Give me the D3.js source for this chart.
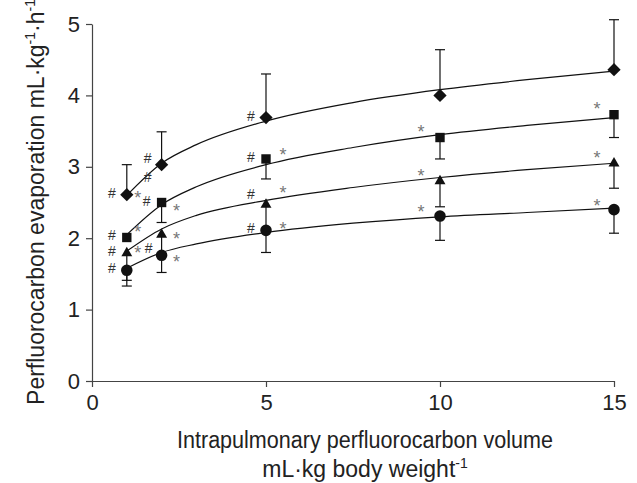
<!DOCTYPE html>
<html>
<head>
<meta charset="utf-8">
<script src="https://cdn.jsdelivr.net/npm/d3@7"></script>
<style>
  body { margin: 0; background: #fff; }
  svg { display: block; font-family: "Liberation Sans", Arial, sans-serif; }
</style>
</head>
<body>
<div id="chart-area"></div>
<script>
// volumes (mL/kg) where evaporation was measured
const volumes = [1, 2, 5, 10, 15];

// mean evaporation per series
const diamondValues = [2.61, 3.03, 3.69, 4.00, 4.36];
const squareValues = [2.01, 2.50, 3.11, 3.41, 3.73];
const triangleValues = [1.79, 2.05, 2.47, 2.80, 3.05];
const circleValues = [1.55, 1.76, 2.11, 2.31, 2.40];

// one-sided error bars (diamond up, the rest down)
const diamondErr = [0.42, 0.46, 0.61, 0.64, 0.70];
const squareErr = [null, 0.28, 0.28, 0.30, 0.32];
const triangleErr = [0.38, 0.30, 0.36, 0.36, 0.35];
const circleErr = [0.22, 0.24, 0.31, 0.34, 0.33];

// fitted curves
const fitX = [1, 2, 3, 5, 7.5, 10, 12.5, 15];
const diamondFit = [2.60, 3.05, 3.31, 3.64, 3.90, 4.08, 4.22, 4.34];
const squareFit = [2.05, 2.47, 2.72, 3.03, 3.27, 3.45, 3.58, 3.69];
const triangleFit = [1.82, 2.13, 2.32, 2.53, 2.71, 2.85, 2.96, 3.05];
const circleFit = [1.58, 1.80, 1.92, 2.08, 2.21, 2.30, 2.36, 2.42];

const xTicks = [0, 5, 10, 15];
const yTicks = [0, 1, 2, 3, 4, 5];

// significance marks: series, volume, symbol
const marks = [
  ["diamond", 1, "#"], ["diamond", 1, "*"], ["diamond", 2, "#"], ["diamond", 2, "#2"], ["diamond", 5, "#"],
  ["square", 1, "#"], ["square", 1, "*"], ["square", 2, "#"], ["square", 2, "*"], ["square", 5, "#"], ["square", 5, "*"],
  ["square", 10, "*"], ["square", 15, "*"],
  ["triangle", 1, "#"], ["triangle", 1, "*"], ["triangle", 2, "#"], ["triangle", 2, "*"], ["triangle", 5, "#"], ["triangle", 5, "*"],
  ["triangle", 10, "*"], ["triangle", 15, "*"],
  ["circle", 1, "#"], ["circle", 2, "*"], ["circle", 5, "#"], ["circle", 5, "*"], ["circle", 10, "*"], ["circle", 15, "*"]
];

const series = [
  {name: "diamond", values: diamondValues, err: diamondErr, fit: diamondFit, up: true, shape: d3.symbolSquare, size: 88, rot: 45},
  {name: "square", values: squareValues, err: squareErr, fit: squareFit, up: false, shape: d3.symbolSquare, size: 88, rot: 0},
  {name: "triangle", values: triangleValues, err: triangleErr, fit: triangleFit, up: false, shape: d3.symbolTriangle, size: 52, rot: 0},
  {name: "circle", values: circleValues, err: circleErr, fit: circleFit, up: false, shape: d3.symbolCircle, size: 105, rot: 0}
];

// pixel offsets of the marks from their point
function markOffset(name, v, sym) {
  if (sym === "#2") return [-14, 12];
  if (sym === "#") {
    if (name === "diamond" && v === 2) return [-14, -7];
    if (name === "triangle" && v === 2) return [-13, 13];
    if (name === "triangle" && v === 5) return [-15, -11];
    return [-15, -2];
  }
  if (v >= 10) {
    const dy = {square: -10, triangle: -9, circle: -8}[name];
    return [v === 10 ? -19 : -17, dy];
  }
  if (v === 5) return [17, {square: -8, triangle: -16, circle: -5}[name]];
  if (v === 2) return [15, {square: 4, triangle: 0, circle: 3}[name]];
  return [11, {diamond: -1, square: -9, triangle: -4}[name]];
}

const width = 637, height = 483;
const x = d3.scaleLinear().domain([0, 15]).range([92, 614]);
const y = d3.scaleLinear().domain([0, 5]).range([381, 24]);

const svg = d3.select("#chart-area").append("svg")
  .attr("width", width).attr("height", height);

const axisColor = "#444";

const xAxis = svg.append("g")
  .attr("transform", `translate(0,${y(0)})`)
  .call(d3.axisBottom(x).tickValues(xTicks).tickFormat(d3.format("d"))
    .tickSize(6).tickSizeOuter(0).tickPadding(7));
const yAxis = svg.append("g")
  .attr("transform", `translate(${x(0)},0)`)
  .call(d3.axisLeft(y).tickValues(yTicks).tickFormat(d3.format("d"))
    .tickSize(6).tickSizeOuter(0).tickPadding(6));

[xAxis, yAxis].forEach(g => {
  g.select(".domain").attr("stroke", axisColor).attr("stroke-width", 1.2);
  g.selectAll(".tick line").attr("stroke", axisColor).attr("stroke-width", 1.2);
  g.selectAll(".tick text").attr("fill", "#222").style("font-size", "22px");
});

// fitted lines
const line = d3.line().x(d => x(d[0])).y(d => y(d[1])).curve(d3.curveMonotoneX);
svg.append("g").selectAll("path")
  .data(series)
  .join("path")
  .attr("d", s => line(fitX.map((v, i) => [v, s.fit[i]])))
  .attr("fill", "none")
  .attr("stroke", "#111")
  .attr("stroke-width", 1.2);

// error bars
series.forEach(s => {
  const g = svg.append("g").attr("stroke", "#111").attr("stroke-width", 1.2);
  volumes.forEach((v, i) => {
    if (s.err[i] == null) return;
    const end = s.up ? s.values[i] + s.err[i] : s.values[i] - s.err[i];
    g.append("line").attr("x1", x(v)).attr("x2", x(v)).attr("y1", y(s.values[i])).attr("y2", y(end));
    g.append("line").attr("x1", x(v) - 5).attr("x2", x(v) + 5).attr("y1", y(end)).attr("y2", y(end));
  });
});

// markers
series.forEach(s => {
  svg.append("g").selectAll("path")
    .data(volumes.map((v, i) => [v, s.values[i]]))
    .join("path")
    .attr("transform", d => `translate(${x(d[0])},${y(d[1])}) rotate(${s.rot})`)
    .attr("d", d3.symbol().type(s.shape).size(s.size))
    .attr("fill", "#111");
});

// significance marks
const byName = {};
series.forEach(s => byName[s.name] = s);
svg.append("g").selectAll("text")
  .data(marks)
  .join("text")
  .attr("x", d => x(d[1]) + markOffset(d[0], d[1], d[2])[0])
  .attr("y", d => {
    const val = byName[d[0]].values[volumes.indexOf(d[1])];
    const off = markOffset(d[0], d[1], d[2])[1];
    return y(val) + off + (d[2] === "*" ? 10 : 5);
  })
  .attr("text-anchor", "middle")
  .attr("fill", d => d[2] === "*" ? "#777" : "#333")
  .style("font-size", d => d[2] === "*" ? "18px" : "14px")
  .text(d => d[2] === "#2" ? "#" : d[2]);

// axis titles
svg.append("text")
  .attr("x", 365).attr("y", 448)
  .attr("text-anchor", "middle")
  .attr("fill", "#222")
  .style("font-size", "23px")
  .attr("textLength", 376).attr("lengthAdjust", "spacingAndGlyphs")
  .text("Intrapulmonary perfluorocarbon volume");

const t2 = svg.append("text")
  .attr("x", 365).attr("y", 477)
  .attr("text-anchor", "middle")
  .attr("fill", "#222")
  .style("font-size", "23px");
t2.append("tspan").text("mL·kg body weight");
t2.append("tspan").attr("dy", -9).style("font-size", "14px").text("-1");

const yt = svg.append("text")
  .attr("transform", "translate(44,202) rotate(-90)")
  .attr("text-anchor", "middle")
  .attr("fill", "#222")
  .style("font-size", "23px");
yt.append("tspan").text("Perfluorocarbon evaporation  mL·kg");
yt.append("tspan").attr("dy", -9).style("font-size", "14px").text("-1");
yt.append("tspan").attr("dy", 9).text("·h");
yt.append("tspan").attr("dy", -9).style("font-size", "14px").text("-1");
</script>
</body>
</html>
